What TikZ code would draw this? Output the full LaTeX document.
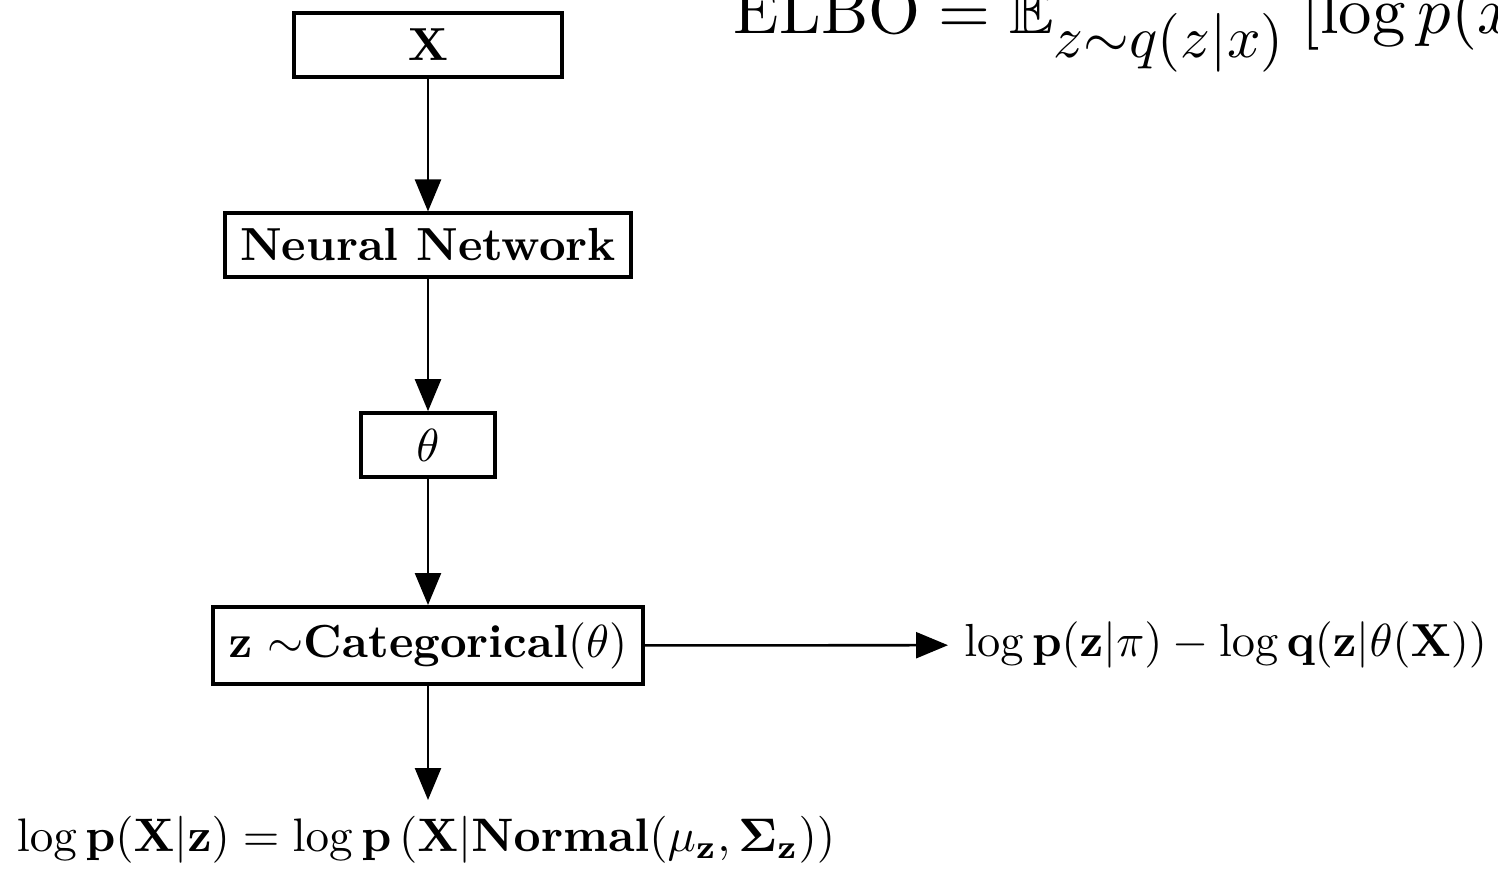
\documentclass[tikz,border=0pt]{standalone}
\usepackage{graphicx}
\usepackage{amsmath,amssymb}
\usetikzlibrary{arrows.meta}
\begin{document}
\begin{tikzpicture}[x=0.2156pt,y=-0.2156pt,
  box/.style={draw,line width=0.8pt,inner sep=3.33pt},
  conn/.style={line width=0.55pt,-{Triangle[length=6.9pt,width=5.6pt]}},
  lbl/.style={inner sep=3.33pt}]
\useasboundingbox (0,0) rectangle (1498,870);
\clip (0,0) rectangle (1498,870);
\node[box,minimum width=57.8pt,minimum height=13.8pt] (x) at (428,45) {$\mathbf{X}$};
\node[box] (nn) at (428,245) {\textbf{Neural Network}};
\node[box,minimum width=28.9pt,minimum height=13.8pt] (theta) at (428,445) {$\theta$};
\node[box] (cat) at (428,645.5) {$\mathbf{z}$ $\sim$\textbf{Categorical}$(\theta)$};
\node[lbl,anchor=west] (kl) at (948,645) {$\log\mathbf{p}(\mathbf{z}|\pi) - \log\mathbf{q}(\mathbf{z}|\theta(\mathbf{X}))$};
\node[lbl,anchor=north] (lik) at (426,800) {\scalebox{1.014}{$\log\mathbf{p}(\mathbf{X}|\mathbf{z}) = \log\mathbf{p}\left(\mathbf{X}\middle|\mathbf{Normal}(\mu_{\mathbf{z}},\mathbf{\Sigma}_{\mathbf{z}})\right)$}};
\node[inner sep=0,anchor=base west] (elbo) at (733,33) {\scalebox{1.44}{$\mathrm{ELBO} = \mathbb{E}_{\hbox{\vrule height 7.05pt width 0pt\scalebox{0.88}{$z{\sim}q(z|x)$}}}\mkern4mu[\log p(x|z)]$}};
\draw[conn] (x) -- (nn);
\draw[conn] (nn) -- (theta);
\draw[conn] (theta) -- (cat);
\draw[conn] (cat.south) -- (cat.south |- lik.north);
\draw[conn] (cat) -- (kl);
\end{tikzpicture}
\end{document}
